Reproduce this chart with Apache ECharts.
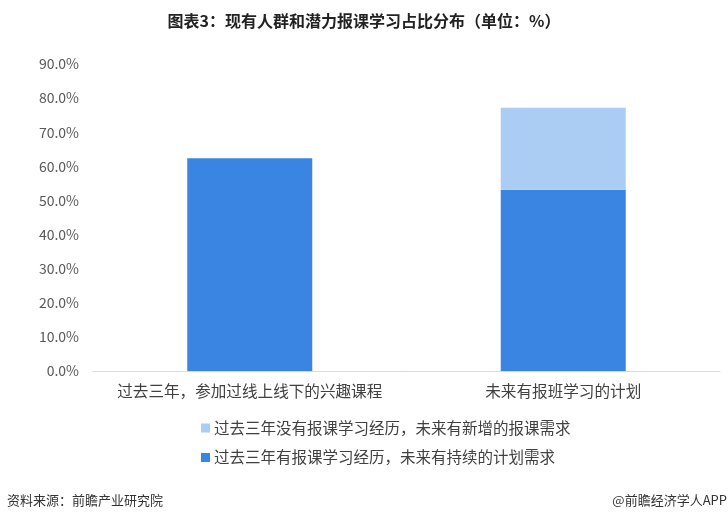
<!DOCTYPE html>
<html><head><meta charset="utf-8">
<script src="https://cdn.jsdelivr.net/npm/echarts@6/dist/echarts.min.js"></script>
<style>html,body{margin:0;padding:0;background:#fff}#c{width:728px;height:521px}</style>
</head><body><div id="c"></div>
<script>
const categories = ['过去三年，参加过线上线下的兴趣课程', '未来有报班学习的计划'];
const seriesNames = ['过去三年有报课学习经历，未来有持续的计划需求', '过去三年没有报课学习经历，未来有新增的报课需求'];
const continuing = [62.4, 53.1];
const newDemand = [null, 24.1];
const yTicks = [0, 10, 20, 30, 40, 50, 60, 70, 80, 90];

const FONT = '"Noto Sans CJK SC", "Noto Sans", sans-serif';
const chart = echarts.init(document.getElementById('c'), null, {renderer: 'canvas'});
chart.setOption({
  backgroundColor: '#fff',
  animation: false,
  textStyle: {fontFamily: FONT},
  title: {
    text: '图表3：现有人群和潜力报课学习占比分布（单位：%）',
    left: 'center', top: 12, padding: 0,
    textStyle: {fontSize: 16, lineHeight: 18, fontWeight: 'bold', color: '#222', fontFamily: FONT}
  },
  grid: {left: 93, right: 8, top: 64, bottom: 150, containLabel: false},
  xAxis: {
    type: 'category', data: categories,
    axisLine: {lineStyle: {color: '#d9d9d9'}},
    axisTick: {show: false},
    axisLabel: {interval: 0, hideOverlap: false, fontSize: 15.6, color: '#404040', margin: 12, fontFamily: FONT}
  },
  yAxis: {
    type: 'value', min: yTicks[0], max: yTicks[yTicks.length - 1], interval: 10,
    axisLine: {show: false}, axisTick: {show: false}, splitLine: {show: false},
    axisLabel: {fontSize: 14, color: '#595959', margin: 14, fontFamily: FONT,
      formatter: v => v.toFixed(1) + '%'}
  },
  legend: {
    data: [seriesNames[1], seriesNames[0]],
    orient: 'vertical', left: 201, top: 420, padding: 0,
    itemWidth: 9, itemHeight: 9, itemGap: 13.5, icon: 'rect',
    textStyle: {fontSize: 15.5, lineHeight: 16, color: '#404040', fontFamily: FONT, padding: [0, 0, 0, -1]}
  },
  series: [
    {name: seriesNames[0], type: 'bar', stack: 's', data: continuing, barWidth: 125,
      itemStyle: {color: '#3a85e2'}},
    {name: seriesNames[1], type: 'bar', stack: 's', data: newDemand, barWidth: 125,
      itemStyle: {color: '#abcdf3'}}
  ],
  graphic: [
    {type: 'text', left: 7, top: 494, style: {text: '资料来源：前瞻产业研究院', fontSize: 13, fill: '#333', fontFamily: FONT}},
    {type: 'text', right: 1, top: 494, style: {text: '@前瞻经济学人APP', fontSize: 13, fill: '#333', fontFamily: FONT}}
  ]
});
</script></body></html>
